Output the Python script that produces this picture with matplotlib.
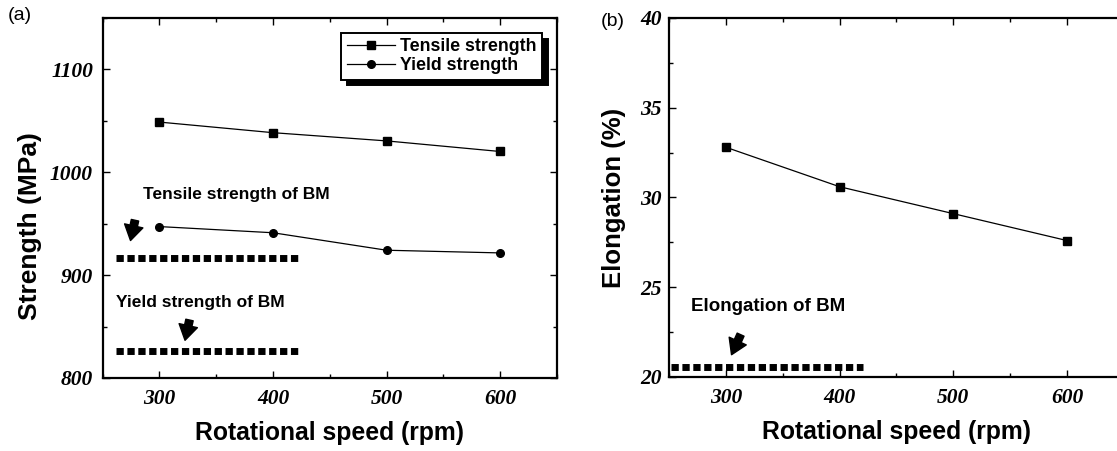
import matplotlib
matplotlib.use('Agg')
import matplotlib.pyplot as plt
from matplotlib.ticker import MultipleLocator

# data
speed = [300, 400, 500, 600]
tensile = [1048.8, 1038.5, 1030.5, 1020.2]
yield_str = [947.2, 941.2, 924.2, 921.6]
elongation = [32.8, 30.6, 29.1, 27.6]

tensile_bm = 916.7
yield_bm = 826.6
elongation_bm = 20.55
bm_span_a = [262, 424]   # x extent of the dotted base-metal lines
bm_span_b = [252, 421]

sans = 'Liberation Sans'
serif = 'Liberation Serif'

fig = plt.figure(figsize=(11.17, 4.51), dpi=100)
ax1 = fig.add_axes([0.0919, 0.1619, 0.4067, 0.7982])
ax2 = fig.add_axes([0.5989, 0.1641, 0.4073, 0.7960])


def style_axes(ax, ymajor, yminor, ypad):
    ax.xaxis.set_major_locator(MultipleLocator(100))
    ax.xaxis.set_minor_locator(MultipleLocator(50))
    ax.yaxis.set_major_locator(MultipleLocator(ymajor))
    ax.yaxis.set_minor_locator(MultipleLocator(yminor))
    ax.tick_params(which='both', direction='in', top=True, right=True, width=1.0)
    ax.tick_params(which='major', length=5)
    ax.tick_params(which='minor', length=3)
    ax.tick_params(axis='x', pad=8)
    ax.tick_params(axis='y', pad=ypad)
    for lab in ax.get_xticklabels() + ax.get_yticklabels():
        lab.set_fontfamily(serif)
        lab.set_fontstyle('italic')
        lab.set_fontweight('bold')
        lab.set_fontsize(15.5)
    for sp in ax.spines.values():
        sp.set_linewidth(1.6)


def bm_line(ax, span, y):
    ax.plot(span, [y, y], color='k', lw=5, dashes=(1.05, 0.52),
            solid_capstyle='butt', dash_capstyle='butt')


def arrow(ax, head, tail):
    ax.annotate('', xy=head, xytext=tail,
                arrowprops=dict(arrowstyle='simple,head_length=0.6,head_width=0.75,tail_width=0.3',
                                mutation_scale=18, fc='k', ec='k'))


# ---- panel (a)
ax1.plot(speed, tensile, '-s', color='k', lw=0.9, ms=5.5, label='Tensile strength')
ax1.plot(speed, yield_str, '-o', color='k', lw=0.9, ms=5.5, label='Yield strength')
bm_line(ax1, bm_span_a, tensile_bm)
bm_line(ax1, bm_span_a, yield_bm)
ax1.set_xlim(250, 650)
ax1.set_ylim(800, 1150)
ax1.set_yticks([800, 900, 1000, 1100])
style_axes(ax1, 100, 50, 7)
ax1.text(285.5, 978, 'Tensile strength of BM', fontfamily=sans, fontweight='bold',
         fontsize=12.5, va='center')
ax1.text(262, 873, 'Yield strength of BM', fontfamily=sans, fontweight='bold',
         fontsize=12.5, va='center')
arrow(ax1, (274, 931), (279, 956))
arrow(ax1, (322, 834), (327, 859))
ax1.set_xlabel('Rotational speed (rpm)', fontfamily=sans, fontweight='bold', fontsize=17.8)
ax1.set_ylabel('Strength (MPa)', fontfamily=sans, fontweight='bold', fontsize=19)
ax1.xaxis.set_label_coords(0.5, -0.12)
ax1.yaxis.set_label_coords(-0.134, 0.422)
leg = ax1.legend(loc='upper right', bbox_to_anchor=(0.967, 0.958), borderaxespad=0,
                 fancybox=False, edgecolor='k', framealpha=1,
                 shadow={'ox': 4, 'oy': -4, 'color': 'k', 'alpha': 1},
                 prop={'family': sans, 'weight': 'bold', 'size': 12.8},
                 handlelength=2.7, handletextpad=0.3, borderpad=0.3, labelspacing=0.1)
leg.get_frame().set_linewidth(1.4)

# ---- panel (b)
ax2.plot(speed, elongation, '-s', color='k', lw=0.9, ms=5.5)
bm_line(ax2, bm_span_b, elongation_bm)
ax2.set_xlim(250, 650)
ax2.set_ylim(20, 40)
style_axes(ax2, 5, 2.5, 5)
ax2.text(269.5, 23.9, 'Elongation of BM', fontfamily=sans, fontweight='bold',
         fontsize=13.5, va='center')
arrow(ax2, (304, 21.1), (314, 22.5))
ax2.set_xlabel('Rotational speed (rpm)', fontfamily=sans, fontweight='bold', fontsize=17.8)
ax2.set_ylabel('Elongation (%)', fontfamily=sans, fontweight='bold', fontsize=18.5)
ax2.xaxis.set_label_coords(0.5, -0.12)
ax2.yaxis.set_label_coords(-0.095, 0.5)

fig.text(0.007, 0.965, '(a)', fontfamily=sans, fontsize=14, va='center')
fig.text(0.538, 0.953, '(b)', fontfamily=sans, fontsize=14, va='center')

fig.savefig('out.png', dpi=100)
